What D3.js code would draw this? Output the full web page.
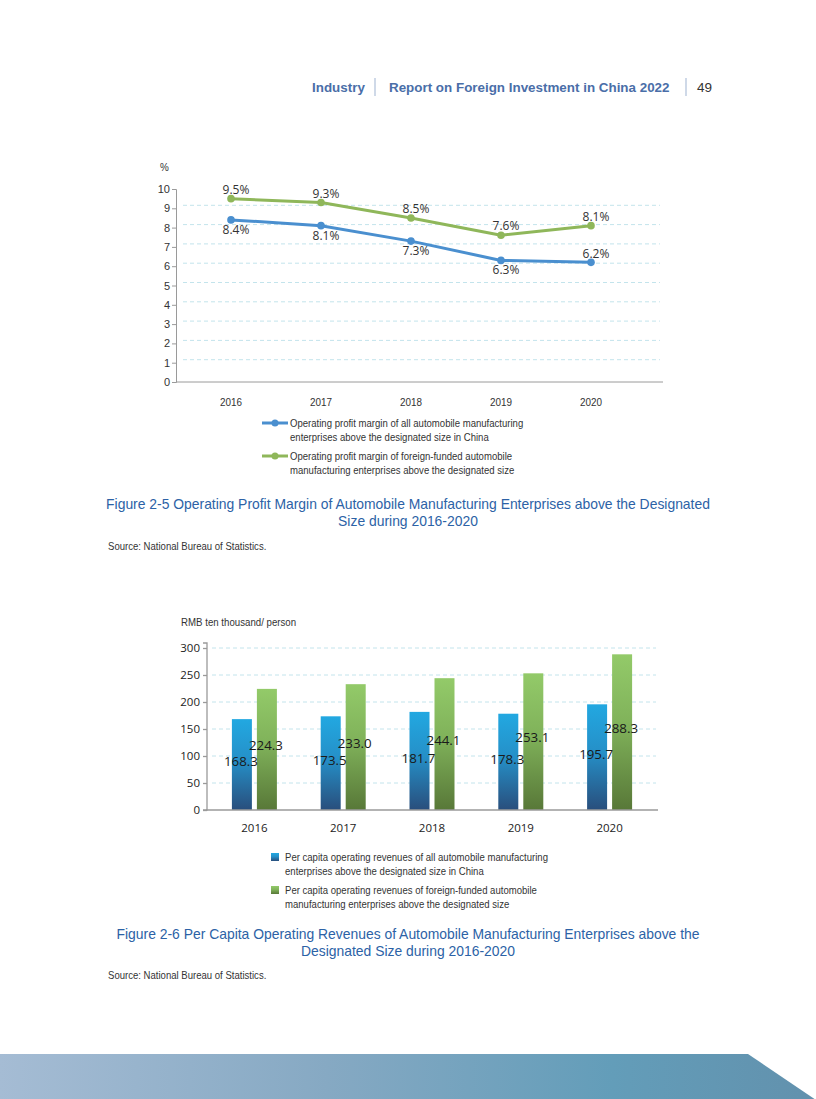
<!DOCTYPE html>
<html>
<head>
<meta charset="utf-8">
<script src="https://cdn.jsdelivr.net/npm/d3@7"></script>
<style>
  body { margin: 0; background: #fff; }
  svg { display: block; }
  .narrow { font-family: "Liberation Sans", Arial, sans-serif; }
  .open { font-family: "Open Sans", "Noto Sans", sans-serif; }
  .arial { font-family: "Liberation Sans", Arial, sans-serif; }
</style>
</head>
<body>
<script>
const years = ["2016", "2017", "2018", "2019", "2020"];

// Figure 2-5, operating profit margin (%)
const marginAll = [8.4, 8.1, 7.3, 6.3, 6.2];
const marginForeign = [9.5, 9.3, 8.5, 7.6, 8.1];
const marginTicks = [0, 1, 2, 3, 4, 5, 6, 7, 8, 9, 10];
const marginLegend = [
  ["Operating profit margin of all automobile manufacturing", "enterprises above the designated size in China"],
  ["Operating profit margin of foreign-funded automobile", "manufacturing enterprises above the designated size"]
];

// Figure 2-6, per capita operating revenues (RMB ten thousand / person)
const revenueAll = [168.3, 173.5, 181.7, 178.3, 195.7];
const revenueForeign = [224.3, 233.0, 244.1, 253.1, 288.3];
const revenueTicks = [0, 50, 100, 150, 200, 250, 300];
const revenueLegend = [
  ["Per capita operating revenues of all automobile manufacturing", "enterprises above the designated size in China"],
  ["Per capita operating revenues of foreign-funded automobile", "manufacturing enterprises above the designated size"]
];

const blue = "#4a8fcf", green = "#8fb75a";
const captionColor = "#2c62a6";

const svg = d3.select("body").append("svg")
    .attr("width", 816)
    .attr("height", 1099);

const defs = svg.append("defs");

// condensed-looking text (no narrow font installed, so squeeze horizontally)
function narrowText(parent, x, y, str, size = 11, sx = 0.87) {
  return parent.append("text")
      .attr("class", "narrow")
      .attr("transform", `translate(${x},${y}) scale(${sx},1)`)
      .attr("font-size", size).attr("fill", "#333")
      .text(str);
}

// ---- page header ----
const header = svg.append("g").attr("class", "arial");
header.append("text").attr("x", 312).attr("y", 92)
    .attr("font-size", 13.4).attr("font-weight", "bold").attr("fill", "#4a6ea8")
    .text("Industry");
header.append("line").attr("x1", 375).attr("x2", 375).attr("y1", 78).attr("y2", 96)
    .attr("stroke", "#9fb3d1");
header.append("text").attr("x", 389).attr("y", 92)
    .attr("font-size", 13.4).attr("font-weight", "bold").attr("fill", "#4a6ea8")
    .text("Report on Foreign Investment in China 2022");
header.append("line").attr("x1", 686).attr("x2", 686).attr("y1", 78).attr("y2", 96)
    .attr("stroke", "#9fb3d1");
header.append("text").attr("x", 697).attr("y", 92)
    .attr("font-size", 13.5).attr("fill", "#333")
    .text("49");

// ---- Figure 2-5 line chart ----
const lx = d3.scalePoint().domain(years).range([231, 591]);
const ly = d3.scaleLinear().domain([0, 10]).range([382, 189]);

const lc = svg.append("g");

lc.append("g")
  .selectAll("line")
  .data(marginTicks.filter(d => d > 0 && d < 10))
  .join("line")
    .attr("x1", 183).attr("x2", 660)
    .attr("y1", d => ly(d) - 3).attr("y2", d => ly(d) - 3)
    .attr("stroke", "#c3e4ec").attr("stroke-dasharray", "4,3");

lc.append("g")
    .attr("transform", "translate(176,0)")
    .attr("class", "narrow")
    .call(d3.axisLeft(ly).tickValues(marginTicks).tickSize(4).tickPadding(2))
    .call(g => g.selectAll("line, path").attr("stroke", "#9a9a9a"))
    .call(g => g.selectAll("text").attr("font-size", 11).attr("fill", "#333")
        .attr("font-family", null));

lc.append("line").attr("x1", 176).attr("x2", 663).attr("y1", ly(0)).attr("y2", ly(0))
    .attr("stroke", "#9a9a9a");

const yearG = lc.append("g");
years.forEach(d => {
  narrowText(yearG, lx(d), 406, d, 11, 0.9).attr("text-anchor", "middle");
});

narrowText(lc, 160, 171, "%", 11, 0.9);

const line = d3.line().x((d, i) => lx(years[i])).y(d => ly(d));

[[marginForeign, green], [marginAll, blue]].forEach(([vals, col]) => {
  lc.append("path").datum(vals)
      .attr("d", line).attr("fill", "none").attr("stroke", col)
      .attr("stroke-width", 3).attr("stroke-linejoin", "round");
  lc.append("g").selectAll("circle").data(vals).join("circle")
      .attr("cx", (d, i) => lx(years[i])).attr("cy", d => ly(d)).attr("r", 3.8)
      .attr("fill", col);
});

// value labels: foreign above, all below (except last)
lc.append("g").attr("class", "open").selectAll("text").data(marginForeign).join("text")
    .attr("x", (d, i) => lx(years[i]) + 5).attr("y", d => ly(d) - 5)
    .attr("text-anchor", "middle").attr("font-size", 12).attr("fill", "#333")
    .text(d => d.toFixed(1) + "%");
lc.append("g").attr("class", "open").selectAll("text").data(marginAll).join("text")
    .attr("x", (d, i) => lx(years[i]) + 5)
    .attr("y", (d, i) => i === 4 ? ly(d) - 4 : ly(d) + 14)
    .attr("text-anchor", "middle").attr("font-size", 12).attr("fill", "#333")
    .text(d => d.toFixed(1) + "%");

// legend
const lleg = svg.append("g");
[[blue, 423], [green, 456]].forEach(([col, y], k) => {
  lleg.append("line").attr("x1", 262).attr("x2", 288).attr("y1", y).attr("y2", y)
      .attr("stroke", col).attr("stroke-width", 3);
  lleg.append("circle").attr("cx", 275).attr("cy", y).attr("r", 3.5).attr("fill", col);
  marginLegend[k].forEach((t, j) => narrowText(lleg, 290, y + 4 + j * 13.5, t));
});

// caption + source
const cap1 = svg.append("g").attr("class", "arial").attr("fill", captionColor)
    .attr("font-size", 13.9).attr("text-anchor", "middle");
cap1.append("text").attr("x", 408).attr("y", 509)
    .text("Figure 2-5 Operating Profit Margin of Automobile Manufacturing Enterprises above the Designated");
cap1.append("text").attr("x", 408).attr("y", 526).text("Size during 2016-2020");
narrowText(svg, 108, 550, "Source: National Bureau of Statistics.");

// ---- Figure 2-6 bar chart ----
const bx = d3.scaleBand().domain(years).range([210, 654]);
const bsub = d3.scaleBand().domain(["all", "foreign"]).range([-22.5, 22.5]).paddingInner(0.2);
const by = d3.scaleLinear().domain([0, 300]).range([810, 648]);

const gradBlue = defs.append("linearGradient").attr("id", "gBlue")
    .attr("x1", 0).attr("y1", 0).attr("x2", 0).attr("y2", 1);
gradBlue.append("stop").attr("offset", "0%").attr("stop-color", "#22a8e1");
gradBlue.append("stop").attr("offset", "45%").attr("stop-color", "#2590c8");
gradBlue.append("stop").attr("offset", "100%").attr("stop-color", "#294e7c");
const gradGreen = defs.append("linearGradient").attr("id", "gGreen")
    .attr("x1", 0).attr("y1", 0).attr("x2", 0).attr("y2", 1);
gradGreen.append("stop").attr("offset", "0%").attr("stop-color", "#93ca69");
gradGreen.append("stop").attr("offset", "45%").attr("stop-color", "#80b25a");
gradGreen.append("stop").attr("offset", "100%").attr("stop-color", "#587838");

const bc = svg.append("g");

bc.append("g").selectAll("line")
  .data(revenueTicks.filter(d => d > 0))
  .join("line")
    .attr("x1", 212).attr("x2", 656)
    .attr("y1", d => by(d)).attr("y2", d => by(d))
    .attr("stroke", "#c3e4ec").attr("stroke-dasharray", "4,3");

bc.append("g")
    .attr("transform", "translate(207,0)")
    .attr("class", "open")
    .call(d3.axisLeft(by).tickValues(revenueTicks).tickSize(4).tickPadding(3))
    .call(g => g.select(".domain").attr("d", "M-4,643H0V810H-4"))
    .call(g => g.selectAll("line, path").attr("stroke", "#9a9a9a").attr("stroke-width", 1.3))
    .call(g => g.selectAll("text").attr("font-size", 11.5).attr("fill", "#222")
        .attr("font-family", null));

const series = [
  { key: "all", vals: revenueAll, fill: "url(#gBlue)", dy: -3 },
  { key: "foreign", vals: revenueForeign, fill: "url(#gGreen)", dy: -4 }
];

series.forEach(s => {
  bc.append("g").selectAll("rect").data(s.vals).join("rect")
      .attr("x", (d, i) => bx(years[i]) + bx.bandwidth() / 2 + bsub(s.key))
      .attr("y", d => by(d))
      .attr("width", bsub.bandwidth())
      .attr("height", d => by(0) - by(d))
      .attr("fill", s.fill);
});

bc.append("line").attr("x1", 206).attr("x2", 658).attr("y1", by(0)).attr("y2", by(0))
    .attr("stroke", "#9a9a9a").attr("stroke-width", 1.5);

series.forEach(s => {
  bc.append("g").attr("class", "open").selectAll("text").data(s.vals).join("text")
      .attr("x", (d, i) => bx(years[i]) + bx.bandwidth() / 2 + bsub(s.key) + bsub.bandwidth() / 2 - 1)
      .attr("y", d => by(d / 2) + s.dy)
      .attr("dy", "0.35em")
      .attr("text-anchor", "middle").attr("font-size", 13.3).attr("fill", "#1a1a1a")
      .text(d => d.toFixed(1));
});

bc.append("g").attr("class", "open").selectAll("text").data(years).join("text")
    .attr("x", d => bx(d) + bx.bandwidth() / 2).attr("y", 832)
    .attr("text-anchor", "middle").attr("font-size", 11.5).attr("fill", "#222")
    .text(d => d);

narrowText(bc, 181, 626, "RMB ten thousand/ person", 11, 0.88);

// legend
const bleg = svg.append("g");
[["url(#gBlue)", 853], ["url(#gGreen)", 886]].forEach(([col, y], k) => {
  bleg.append("rect").attr("x", 271).attr("y", y).attr("width", 8).attr("height", 8)
      .attr("fill", col);
  revenueLegend[k].forEach((t, j) => narrowText(bleg, 285, y + 8 + j * 13.5, t));
});

const cap2 = svg.append("g").attr("class", "arial").attr("fill", captionColor)
    .attr("font-size", 13.9).attr("text-anchor", "middle");
cap2.append("text").attr("x", 408).attr("y", 939)
    .text("Figure 2-6 Per Capita Operating Revenues of Automobile Manufacturing Enterprises above the");
cap2.append("text").attr("x", 408).attr("y", 956).text("Designated Size during 2016-2020");
narrowText(svg, 108, 979, "Source: National Bureau of Statistics.");

// ---- footer band ----
const gradFoot = defs.append("linearGradient").attr("id", "gFoot")
    .attr("x1", 0).attr("y1", 0).attr("x2", 1).attr("y2", 0);
gradFoot.append("stop").attr("offset", "0%").attr("stop-color", "#a5bcd4");
gradFoot.append("stop").attr("offset", "40%").attr("stop-color", "#86a9c3");
gradFoot.append("stop").attr("offset", "75%").attr("stop-color", "#639db9");
gradFoot.append("stop").attr("offset", "100%").attr("stop-color", "#6291ad");
svg.append("path")
    .attr("d", "M0,1054H748L816,1100H0Z")
    .attr("fill", "url(#gFoot)");
</script>
</body>
</html>
